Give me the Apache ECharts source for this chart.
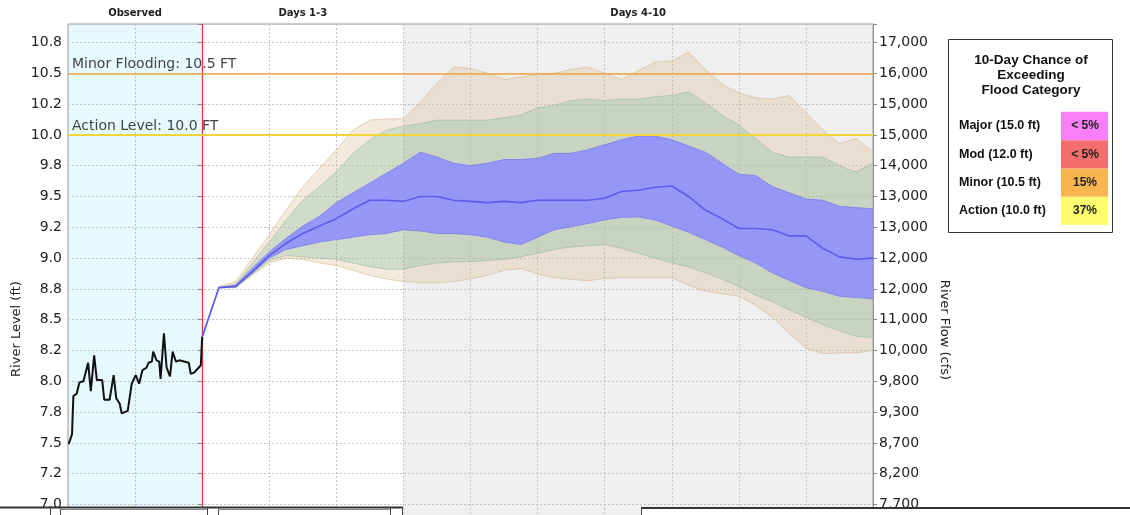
<!DOCTYPE html>
<html><head><meta charset="utf-8">
<script src="https://cdn.jsdelivr.net/npm/echarts/dist/echarts.min.js"></script>
<style>html,body{margin:0;padding:0;background:#fff}#c{width:1130px;height:515px}</style>
</head><body><div id="c"></div><script>
// ---------- DATA ----------
const periods = [[-2, 0], [0, 3], [3, 10]];
const periodNames = ['Observed', 'Days 1-3', 'Days 4-10'];

const obsDay = [-1.99,-1.94,-1.92,-1.87,-1.83,-1.77,-1.75,-1.70,-1.66,-1.61,-1.57,-1.49,-1.46,-1.38,-1.32,-1.28,-1.23,-1.20,-1.11,-1.05,-0.99,-0.94,-0.89,-0.83,-0.80,-0.75,-0.73,-0.68,-0.64,-0.62,-0.57,-0.53,-0.48,-0.44,-0.39,-0.34,-0.27,-0.20,-0.17,-0.12,-0.07,-0.02,0.0];
const obsLevel = [7.49,7.57,7.88,7.90,7.99,8.00,8.01,8.15,7.92,8.21,8.01,8.01,7.85,7.85,8.05,7.86,7.82,7.74,7.76,7.98,8.05,7.98,8.09,8.11,8.15,8.16,8.24,8.17,8.16,8.02,8.39,8.11,8.04,8.24,8.16,8.17,8.16,8.15,8.06,8.07,8.10,8.13,8.36];

const fcDay = [0,0.25,0.5,0.75,1,1.25,1.5,1.75,2,2.25,2.5,2.75,3,3.25,3.5,3.75,4,4.25,4.5,4.75,5,5.25,5.5,5.75,6,6.25,6.5,6.75,7,7.25,7.5,7.75,8,8.25,8.5,8.75,9,9.25,9.5,9.75,10];
const outerHigh = [8.36,8.77,8.81,9.00,9.19,9.39,9.58,9.73,9.88,10.04,10.12,10.13,10.13,10.26,10.42,10.55,10.54,10.50,10.45,10.47,10.49,10.50,10.53,10.55,10.50,10.45,10.52,10.59,10.60,10.67,10.53,10.41,10.34,10.30,10.29,10.32,10.18,10.04,9.93,9.97,9.86];
const midHigh   = [8.36,8.76,8.79,8.96,9.13,9.31,9.47,9.58,9.70,9.85,9.96,10.04,10.07,10.09,10.12,10.12,10.12,10.12,10.14,10.16,10.22,10.24,10.28,10.29,10.28,10.29,10.29,10.31,10.32,10.35,10.26,10.16,10.08,9.97,9.86,9.82,9.82,9.82,9.75,9.70,9.77];
const innerHigh = [8.36,8.76,8.78,8.92,9.05,9.16,9.26,9.34,9.45,9.53,9.61,9.69,9.77,9.86,9.82,9.77,9.75,9.77,9.80,9.80,9.81,9.85,9.85,9.88,9.92,9.96,9.99,9.99,9.96,9.91,9.86,9.77,9.68,9.67,9.58,9.53,9.48,9.47,9.42,9.41,9.40];
const median    = [8.36,8.76,8.77,8.89,9.02,9.12,9.20,9.26,9.32,9.40,9.47,9.47,9.46,9.50,9.50,9.47,9.46,9.45,9.46,9.45,9.47,9.47,9.47,9.47,9.485,9.54,9.55,9.575,9.585,9.50,9.39,9.32,9.24,9.24,9.23,9.18,9.18,9.08,9.01,8.99,9.00];
const innerLow  = [8.36,8.76,8.77,8.88,9.00,9.07,9.10,9.13,9.15,9.17,9.19,9.20,9.23,9.22,9.20,9.20,9.19,9.17,9.13,9.11,9.17,9.23,9.255,9.28,9.31,9.33,9.335,9.31,9.26,9.21,9.15,9.09,9.02,8.96,8.88,8.82,8.76,8.73,8.69,8.68,8.67];
const midLow    = [8.36,8.76,8.76,8.87,8.98,9.02,9.01,9.00,8.99,8.96,8.93,8.91,8.91,8.94,8.96,8.97,8.97,8.98,8.99,9.01,9.04,9.07,9.09,9.10,9.11,9.08,9.04,9.00,8.96,8.93,8.88,8.83,8.77,8.70,8.645,8.58,8.52,8.46,8.41,8.365,8.355];
const outerLow  = [8.36,8.76,8.76,8.86,8.96,9.00,8.99,8.96,8.94,8.90,8.86,8.83,8.81,8.80,8.80,8.81,8.83,8.86,8.90,8.915,8.87,8.84,8.827,8.816,8.835,8.84,8.84,8.84,8.84,8.78,8.73,8.71,8.69,8.62,8.52,8.39,8.27,8.225,8.23,8.23,8.25];

const floodLevels = [10.5, 10.0];
const floodLineNames = ['Minor Flooding: 10.5 FT', 'Action Level: 10.0 FT'];

const levelTicks  = [7.0,7.25,7.5,7.75,8.0,8.25,8.5,8.75,9.0,9.25,9.5,9.75,10.0,10.25,10.5,10.75];
const levelLabels = ['7.0','7.2','7.5','7.8','8.0','8.2','8.5','8.8','9.0','9.2','9.5','9.8','10.0','10.2','10.5','10.8'];
const flowLabels  = ['7,700','8,200','8,700','9,300','9,800','10,000','11,000','12,000','12,000','13,000','13,000','14,000','15,000','15,000','16,000','17,000'];

const legendTitle = ['10-Day Chance of', 'Exceeding', 'Flood Category'];
const floodCategories = ['Major (15.0 ft)', 'Mod (12.0 ft)', 'Minor (10.5 ft)', 'Action (10.0 ft)'];
const floodChances = ['< 5%', '< 5%', '15%', '37%'];

// ---------- STYLE ----------
const FONT = 'DejaVu Sans';
const yMin = 6.75, yMax = 10.9;
const periodFills = ['#e6f9fc', 'rgba(0,0,0,0)', '#efefef'];
const floodLineColors = ['#f4a340', '#f3d538'];
const floodLineWidths = [1.5, 2];
const chanceColors = ['#f97ff9', '#f56e6e', '#fab450', '#fcfc6e'];

const bands = [
  { low: outerLow, high: outerHigh, fill: 'rgba(222,192,150,0.33)', edge: 'rgba(205,170,125,0.5)' },
  { low: midLow,   high: midHigh,   fill: 'rgba(130,185,160,0.3)',  edge: 'rgba(130,170,140,0.45)' },
  { low: innerLow, high: innerHigh, fill: 'rgba(140,140,255,0.85)', edge: 'rgba(115,115,240,0.7)' }
];

function fmt(labels) {
  return v => {
    const k = levelTicks.findIndex(t => Math.abs(t - v) < 1e-6);
    return k < 0 ? '' : labels[k];
  };
}

const chart = echarts.init(document.getElementById('c'), null, { renderer: 'canvas' });

const graphics = [];
graphics.push({ type: 'text', x: 17, y: 329, rotation: Math.PI / 2,
  style: { text: 'River Level (ft)', font: '13px ' + FONT, fill: '#222', align: 'center', verticalAlign: 'middle', textAlign: 'center', textVerticalAlign: 'middle' } });
graphics.push({ type: 'text', x: 944, y: 330, rotation: -Math.PI / 2,
  style: { text: 'River Flow (cfs)', font: '13px ' + FONT, fill: '#222', align: 'center', verticalAlign: 'middle', textAlign: 'center', textVerticalAlign: 'middle' } });
graphics.push({ type: 'rect', shape: { x: 948.5, y: 39.5, width: 164, height: 193 },
  style: { fill: '#fff', stroke: '#333', lineWidth: 1 }, z: 10 });
legendTitle.forEach((t, i) => graphics.push({ type: 'text', x: 1031, y: 60 + i * 15, z: 11,
  style: { text: t, font: 'bold 13.5px "Liberation Sans"', fill: '#111', align: 'center', verticalAlign: 'middle', textAlign: 'center', textVerticalAlign: 'middle' } }));
floodCategories.forEach((t, i) => {
  const cy = 126 + i * 28.3;
  graphics.push({ type: 'rect', shape: { x: 1061, y: cy - 14.15, width: 47, height: 28.3 },
    style: { fill: chanceColors[i] }, z: 11 });
  graphics.push({ type: 'text', x: 959, y: cy, z: 12,
    style: { text: t, font: 'bold 12.5px "Liberation Sans"', fill: '#111', align: 'left', verticalAlign: 'middle', textAlign: 'left', textVerticalAlign: 'middle' } });
  graphics.push({ type: 'text', x: 1085, y: cy, z: 12,
    style: { text: floodChances[i], font: 'bold 12px "Liberation Sans"', fill: '#222', align: 'center', verticalAlign: 'middle', textAlign: 'center', textVerticalAlign: 'middle' } });
});
graphics.push({ type: 'rect', shape: { x: 0, y: 508, width: 403, height: 10 }, style: { fill: '#fff' }, z: 100 });
graphics.push({ type: 'rect', shape: { x: 641, y: 508.5, width: 500, height: 10 }, style: { fill: '#fff' }, z: 100 });
graphics.push({ type: 'line', shape: { x1: 0, y1: 507.5, x2: 403, y2: 507.5 }, style: { stroke: '#333', lineWidth: 2 }, z: 101 });
graphics.push({ type: 'line', shape: { x1: 641, y1: 508, x2: 1130, y2: 508 }, style: { stroke: '#333', lineWidth: 2 }, z: 101 });
[50.5, 60.5, 207.5, 218.5, 390.5, 402.5, 641.5].forEach(x => graphics.push({ type: 'line',
  shape: { x1: x, y1: 508, x2: x, y2: 515 }, style: { stroke: '#444', lineWidth: 1 }, z: 101 }));
graphics.push({ type: 'line', shape: { x1: 60, y1: 509.5, x2: 207, y2: 509.5 }, style: { stroke: '#888', lineWidth: 1 }, z: 101 });
graphics.push({ type: 'line', shape: { x1: 218, y1: 509.5, x2: 390, y2: 509.5 }, style: { stroke: '#888', lineWidth: 1 }, z: 101 });

const option = {
  animation: false,
  backgroundColor: '#fff',
  textStyle: { fontFamily: FONT },
  grid: { left: 68, right: 257, top: 24, bottom: 515 - 24 - (yMax - yMin) * 123.2,
    containLabel: false, outerBoundsMode: 'none',
    show: true, borderColor: '#999', borderWidth: 1, backgroundColor: 'rgba(0,0,0,0)' },
  xAxis: { type: 'value', min: -2, max: 10, interval: 1,
    axisLine: { show: false }, axisTick: { show: false }, axisLabel: { show: false },
    splitLine: { show: true, lineStyle: { color: '#c2c2c2', type: [2, 2], width: 1 } } },
  yAxis: [
    { type: 'value', min: yMin, max: yMax, interval: 0.25, position: 'left',
      axisLine: { show: true, lineStyle: { color: '#999' } },
      axisTick: { show: true, length: 4, lineStyle: { color: '#888' } },
      axisLabel: { formatter: fmt(levelLabels), fontSize: 14, color: '#222', fontFamily: FONT, margin: 6 },
      splitLine: { show: true, lineStyle: { color: '#c2c2c2', type: [2, 2], width: 1 } } },
    { type: 'value', min: yMin, max: yMax, interval: 0.25, position: 'right',
      axisLine: { show: true, lineStyle: { color: '#999' } },
      axisTick: { show: true, length: 4, lineStyle: { color: '#888' } },
      axisLabel: { formatter: fmt(flowLabels), fontSize: 14, color: '#222', fontFamily: FONT, margin: 6 },
      splitLine: { show: false } }
  ],
  graphic: { elements: graphics },
  series: [
    { type: 'custom', z: -1, silent: true, clip: false,
      data: periods.map((p, i) => [p[0], p[1], i]),
      encode: { x: [0, 1] },
      renderItem: (params, api) => {
        const i = api.value(2);
        const p0 = api.coord([api.value(0), yMax]);
        const p1 = api.coord([api.value(1), yMin]);
        return { type: 'group', children: [
          { type: 'rect', shape: { x: p0[0], y: p0[1], width: p1[0] - p0[0], height: p1[1] - p0[1] },
            style: { fill: periodFills[i] } },
          { type: 'text', style: { text: periodNames[i], x: (p0[0] + p1[0]) / 2, y: p0[1] - 11,
            align: 'center', verticalAlign: 'middle', textAlign: 'center', textVerticalAlign: 'middle',
            font: 'bold 10px ' + FONT, fill: '#222' } }
        ] };
      } },
    { type: 'custom', z: 2, silent: true, clip: false,
      data: bands.map((b, i) => [fcDay[0], b.low[0], i]),
      renderItem: (params, api) => {
        const b = bands[api.value(2)];
        const top = b.high.map((v, k) => api.coord([fcDay[k], v]));
        const bot = b.low.map((v, k) => api.coord([fcDay[k], v]));
        return { type: 'group', children: [
          { type: 'polygon', shape: { points: top.concat(bot.slice().reverse()) },
            style: { fill: b.fill, stroke: 'none' } },
          { type: 'polyline', shape: { points: top }, style: { stroke: b.edge, lineWidth: 1, fill: 'none' } },
          { type: 'polyline', shape: { points: bot }, style: { stroke: b.edge, lineWidth: 1, fill: 'none' } }
        ] };
      } },
    { type: 'line', name: 'median', z: 5, silent: true, symbol: 'none',
      data: fcDay.map((d, i) => [d, median[i]]),
      lineStyle: { color: '#5c5cec', width: 1.6 } },
    { type: 'line', name: 'observed', z: 6, silent: true, symbol: 'none',
      data: obsDay.map((d, i) => [d, obsLevel[i]]),
      lineStyle: { color: '#111', width: 2 },
      markLine: { silent: true, symbol: ['none', 'none'], animation: false,
        data: [
          { xAxis: 0, lineStyle: { color: '#e03a3a', width: 1.3, type: 'solid' }, label: { show: false } },
          ...floodLevels.map((v, i) => ({ yAxis: v,
            lineStyle: { color: floodLineColors[i], width: floodLineWidths[i], type: 'solid' },
            label: { show: true, formatter: floodLineNames[i], position: 'insideStartTop',
              distance: [4, 2], color: '#444', fontSize: 14, fontFamily: FONT } }))
        ] } }
  ]
};
chart.setOption(option);
</script></body></html>
